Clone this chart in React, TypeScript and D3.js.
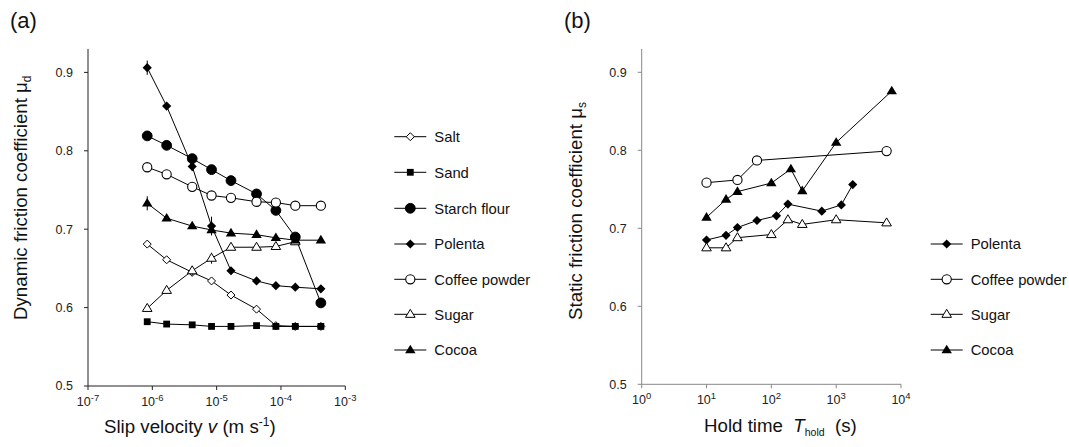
import React from "react";
import * as d3 from "d3";

// ---------- Data: panel (a) dynamic friction vs slip velocity ----------
const velocity = [8.33e-7, 1.67e-6, 4.17e-6, 8.33e-6, 1.67e-5, 4.17e-5, 8.33e-5, 1.67e-4, 4.17e-4];
const saltA = [0.681, 0.661, 0.645, 0.634, 0.616, 0.598, 0.577, 0.576, 0.576];
const sandA = [0.582, 0.579, 0.578, 0.576, 0.576, 0.577, 0.576, 0.576, 0.576];
const starchA = [0.819, 0.807, 0.790, 0.776, 0.762, 0.745, 0.724, 0.690, 0.606];
const polentaA = [0.906, 0.857, 0.780, 0.704, 0.647, 0.634, 0.628, 0.626, 0.624];
const coffeeA = [0.779, 0.770, 0.754, 0.743, 0.740, 0.735, 0.734, 0.730, 0.730];
const sugarA = [0.599, 0.622, 0.647, 0.663, 0.677, 0.677, 0.678, 0.684];
const cocoaA = [0.733, 0.714, 0.704, 0.699, 0.695, 0.693, 0.689, 0.686, 0.686];
const polentaAErr = [0.009, 0, 0.006, 0.012, 0, 0, 0, 0, 0];
const cocoaAErr = [0.009, 0, 0, 0, 0, 0, 0, 0, 0];
const sugarAErr = [0, 0, 0.006, 0.007, 0, 0, 0, 0];

// ---------- Data: panel (b) static friction vs hold time ----------
const holdPolenta = [10, 20, 30, 60, 120, 180, 600, 1200, 1800];
const polentaB = [0.685, 0.691, 0.701, 0.710, 0.716, 0.731, 0.722, 0.730, 0.756];
const holdCoffee = [10, 30, 60, 6000];
const coffeeB = [0.7585, 0.762, 0.787, 0.799];
const holdSugar = [10, 20, 30, 100, 180, 300, 1000, 6000];
const sugarB = [0.675, 0.675, 0.688, 0.692, 0.711, 0.705, 0.711, 0.707];
const holdCocoa = [10, 20, 30, 100, 200, 300, 1000, 7200];
const cocoaB = [0.714, 0.737, 0.747, 0.758, 0.776, 0.748, 0.810, 0.876];

const yTicks = [0.5, 0.6, 0.7, 0.8, 0.9];
const xTickExpA = [-7, -6, -5, -4, -3];
const xTickExpB = [0, 1, 2, 3, 4];

const legendA = ["Salt", "Sand", "Starch flour", "Polenta", "Coffee powder", "Sugar", "Cocoa"];
const legendB = ["Polenta", "Coffee powder", "Sugar", "Cocoa"];

type Shape = "diamondOpen" | "square" | "circle" | "diamond" | "circleOpen" | "triangleOpen" | "triangle";

const shapeOf: Record<string, Shape> = {
  Salt: "diamondOpen",
  Sand: "square",
  "Starch flour": "circle",
  Polenta: "diamond",
  "Coffee powder": "circleOpen",
  Sugar: "triangleOpen",
  Cocoa: "triangle",
};

const FONT = "'Liberation Sans', Arial, Helvetica, sans-serif";

function Marker({ x, y, shape }: { x: number; y: number; shape: Shape }) {
  switch (shape) {
    case "circle":
      return <circle cx={x} cy={y} r={4.9} fill="#000" stroke="#000" strokeWidth={1} />;
    case "circleOpen":
      return <circle cx={x} cy={y} r={4.6} fill="#fff" stroke="#000" strokeWidth={1.1} />;
    case "square":
      return <rect x={x - 3.4} y={y - 3.4} width={6.8} height={6.8} fill="#000" />;
    case "diamond": {
      const s = 4.6;
      return <path d={`M${x},${y - s}L${x + s},${y}L${x},${y + s}L${x - s},${y}Z`} fill="#000" />;
    }
    case "diamondOpen": {
      const s = 4.0;
      return (
        <path d={`M${x},${y - s}L${x + s},${y}L${x},${y + s}L${x - s},${y}Z`} fill="#fff" stroke="#000" strokeWidth={1} />
      );
    }
    case "triangle": {
      const h = 8.6, w = 5.2;
      return <path d={`M${x},${y - h * 0.62}L${x + w},${y + h * 0.38}L${x - w},${y + h * 0.38}Z`} fill="#000" />;
    }
    case "triangleOpen": {
      const h = 8.0, w = 4.8;
      return (
        <path
          d={`M${x},${y - h * 0.62}L${x + w},${y + h * 0.38}L${x - w},${y + h * 0.38}Z`}
          fill="#fff"
          stroke="#000"
          strokeWidth={1}
        />
      );
    }
  }
  return null;
}

type Series = { name: string; xs: number[]; ys: number[]; err?: number[] };

function Panel({
  series,
  xDomain,
  xRange,
  yRange,
  tickExps,
  axisColor,
  yTitle,
  ySub,
  xTitle,
  label,
  labelX,
  yTitleX,
  legend,
  legendX,
}: {
  series: Series[];
  xDomain: [number, number];
  xRange: [number, number];
  yRange: [number, number];
  tickExps: number[];
  axisColor: string;
  yTitle: string;
  ySub: string;
  xTitle: React.ReactNode;
  label: string;
  labelX: number;
  yTitleX: number;
  legend: string[];
  legendX: number;
}) {
  const x = d3.scaleLog().domain(xDomain).range(xRange);
  const y = d3.scaleLinear().domain([0.5, 0.9]).range(yRange);
  const yTop = y(0.93);
  const line = d3
    .line<[number, number]>()
    .x((d) => x(d[0]))
    .y((d) => y(d[1]));
  const x0 = xRange[0];
  const yBase = yRange[0];
  const legendRows = [136.7, 172.3, 208.3, 244, 279.3, 314.3, 350];
  const rows = legendRows.slice(legendRows.length - legend.length);
  return (
    <g fontFamily={FONT}>
      <text x={labelX} y={28} fontSize={22} fill="#111">
        {label}
      </text>
      {/* axes */}
      <line x1={x0} x2={x0} y1={yTop} y2={yBase} stroke={axisColor} strokeWidth={1} />
      <line x1={x0} x2={xRange[1]} y1={yBase} y2={yBase} stroke={axisColor} strokeWidth={1} />
      {yTicks.map((t) => (
        <g key={t}>
          <line x1={x0 - 4} x2={x0} y1={y(t)} y2={y(t)} stroke={axisColor} strokeWidth={1} />
          <text x={x0 - 15} y={y(t) + 4.3} fontSize={12.5} textAnchor="end" fill="#222">
            {t.toFixed(1)}
          </text>
        </g>
      ))}
      {tickExps.map((e) => {
        const xv = x(Math.pow(10, e));
        return (
          <g key={e}>
            <line x1={xv} x2={xv} y1={yBase} y2={yBase + 4} stroke={axisColor} strokeWidth={1} />
            <text x={xv} y={yBase + 20} fontSize={12.5} textAnchor="middle" fill="#222">
              <tspan>10</tspan>
              <tspan dy={-5} fontSize={9.5}>
                {e === 0 ? "0" : String(e).replace("−", "-")}
              </tspan>
            </text>
          </g>
        );
      })}
      {/* y title */}
      <text transform={`translate(${yTitleX},320) rotate(-90)`} fontSize={18.7} fill="#111">
        {yTitle}
        <tspan dy={4} fontSize={12}>
          {ySub}
        </tspan>
      </text>
      {/* x title */}
      {xTitle}
      {/* series */}
      {series.map((s) => {
        const pts = s.xs.map((xv, i) => [xv, s.ys[i]] as [number, number]);
        return (
          <g key={s.name}>
            <path d={line(pts) || ""} fill="none" stroke="#000" strokeWidth={1} />
            {s.err &&
              pts.map((p, i) =>
                s.err![i] > 0 ? (
                  <line
                    key={"e" + i}
                    x1={x(p[0])}
                    x2={x(p[0])}
                    y1={y(p[1] - s.err![i])}
                    y2={y(p[1] + s.err![i])}
                    stroke="#000"
                    strokeWidth={1}
                  />
                ) : null
              )}
            {pts.map((p, i) => (
              <Marker key={i} x={x(p[0])} y={y(p[1])} shape={shapeOf[s.name]} />
            ))}
          </g>
        );
      })}
      {/* legend */}
      {legend.map((name, i) => (
        <g key={name}>
          <line x1={legendX} x2={legendX + 32} y1={rows[i]} y2={rows[i]} stroke="#000" strokeWidth={1} />
          <Marker x={legendX + 16} y={rows[i]} shape={shapeOf[name]} />
          <text x={legendX + 40} y={rows[i] + 5.2} fontSize={14.8} fill="#111">
            {name}
          </text>
        </g>
      ))}
    </g>
  );
}

export default function App() {
  const seriesA: Series[] = [
    { name: "Salt", xs: velocity, ys: saltA },
    { name: "Sand", xs: velocity, ys: sandA },
    { name: "Starch flour", xs: velocity, ys: starchA },
    { name: "Polenta", xs: velocity, ys: polentaA, err: polentaAErr },
    { name: "Coffee powder", xs: velocity, ys: coffeeA },
    { name: "Sugar", xs: velocity.slice(0, sugarA.length), ys: sugarA, err: sugarAErr },
    { name: "Cocoa", xs: velocity, ys: cocoaA, err: cocoaAErr },
  ];
  const seriesB: Series[] = [
    { name: "Polenta", xs: holdPolenta, ys: polentaB },
    { name: "Coffee powder", xs: holdCoffee, ys: coffeeB },
    { name: "Sugar", xs: holdSugar, ys: sugarB },
    { name: "Cocoa", xs: holdCocoa, ys: cocoaB },
  ];
  return (
    <svg
      width={1069}
      height={447}
      style={{ position: "absolute", left: 0, top: 0, background: "#fff" }}
    >
      <rect width={1069} height={447} fill="#fff" />
      <Panel
        series={seriesA}
        xDomain={[1e-7, 1e-3]}
        xRange={[88, 345.3]}
        yRange={[386, 72.4]}
        tickExps={xTickExpA}
        axisColor="#222"
        yTitle="Dynamic friction coefficient μ"
        ySub="d"
        label="(a)"
        labelX={10}
        yTitleX={26.5}
        legend={legendA}
        legendX={394.3}
        xTitle={
          <text x={104} y={433} fontSize={18.7} fill="#111" fontFamily={FONT} style={{ whiteSpace: "pre" }}>
            {"Slip velocity "}
            <tspan fontStyle="italic">v</tspan>
            {" (m s"}
            <tspan dy={-7} fontSize={12}>
              -1
            </tspan>
            <tspan dy={7}>)</tspan>
          </text>
        }
      />
      <Panel
        series={seriesB}
        xDomain={[1, 1e4]}
        xRange={[641.7, 901]}
        yRange={[384.3, 72.3]}
        tickExps={xTickExpB}
        axisColor="#888"
        yTitle="Static friction coefficient μ"
        ySub="s"
        label="(b)"
        labelX={564}
        yTitleX={581.5}
        legend={legendB}
        legendX={930.7}
        xTitle={
          <text x={704} y={432} fontSize={18.7} fill="#111" fontFamily={FONT} style={{ whiteSpace: "pre" }}>
            {"Hold time  "}
            <tspan fontStyle="italic">T</tspan>
            <tspan dy={4} fontSize={10.5}>
              hold
            </tspan>
            <tspan dy={-4}>{"  (s)"}</tspan>
          </text>
        }
      />
    </svg>
  );
}
